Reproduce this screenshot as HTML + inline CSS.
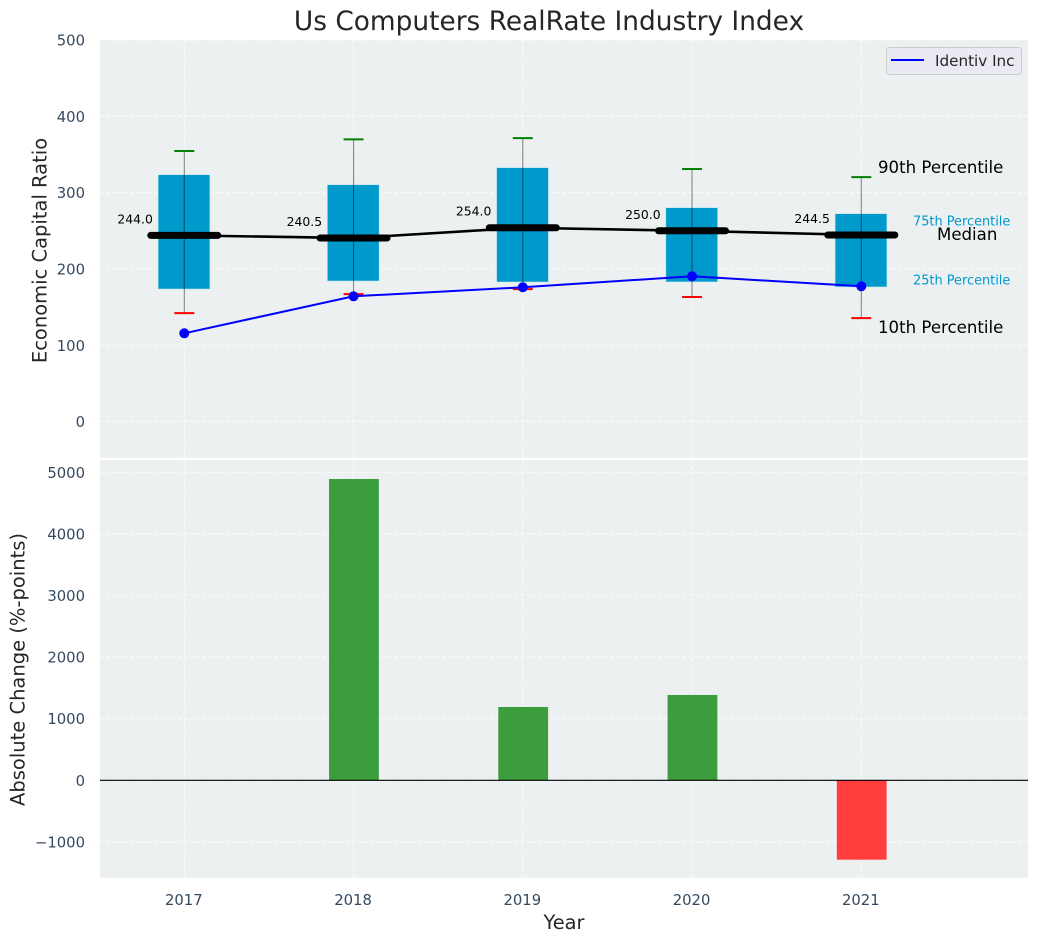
<!DOCTYPE html>
<html lang="en">
<head>
<meta charset="utf-8">
<title>Us Computers RealRate Industry Index</title>
<style>
html,body{margin:0;padding:0;background:#fff;width:1039px;height:942px;overflow:hidden}
svg{display:block;font-family:"DejaVu Sans","Liberation Sans",sans-serif}
</style>
</head>
<body>
<svg id="chart" width="1039" height="942" viewBox="0 0 1039 942" xmlns="http://www.w3.org/2000/svg">
  <rect x="100" y="40" width="928" height="417.7" fill="#ecf0f1"/>
  <rect x="100" y="460" width="928" height="417.7" fill="#ecf0f1"/>
  <g id="grid"></g>
  <g id="marks"></g>
  <text x="549" y="30" font-size="26.4" fill="#262626" text-anchor="middle">Us Computers RealRate Industry Index</text>
  <text x="46.7" y="250.5" font-size="19.5" fill="#262626" text-anchor="middle" transform="rotate(-90 46.7 250.5)">Economic Capital Ratio</text>
  <text x="24.5" y="669.5" font-size="19.5" fill="#262626" text-anchor="middle" transform="rotate(-90 24.5 669.5)">Absolute Change (%-points)</text>
  <text x="564" y="929" font-size="19.4" fill="#262626" text-anchor="middle">Year</text>
  <text x="878" y="173" font-size="16.6" fill="#000">90th Percentile</text>
  <text x="913" y="225.5" font-size="12.9" fill="#0099cc">75th Percentile</text>
  <text x="937" y="240" font-size="16.6" fill="#000">Median</text>
  <text x="913" y="284.5" font-size="12.9" fill="#0099cc">25th Percentile</text>
  <text x="878" y="333" font-size="16.6" fill="#000">10th Percentile</text>
  <g>
    <rect x="886.5" y="47.5" width="135" height="27" rx="3" fill="#eaeaf2" stroke="#cccccc"/>
    <line x1="891" x2="924" y1="60" y2="60" stroke="#0000ff" stroke-width="2"/>
    <text x="935" y="66" font-size="15.2" fill="#262626">Identiv Inc</text>
  </g>
</svg>
<script>
const years = [2017, 2018, 2019, 2020, 2021];
const p90 = [354.5, 369.8, 371.5, 330.9, 320.4];
const p75 = [323.5, 310.4, 332.7, 280.3, 272.4];
const medians = [244, 240.5, 254, 250, 244.5];
const p25 = [173.7, 184.2, 182.9, 183, 176.4];
const p10 = [142.2, 167.1, 173.5, 163.2, 135.6];
const identiv = [115.7, 164.2, 176, 190.4, 177.3];
const changes = [0, 4891, 1190, 1385, -1289];
const topTicks = [0, 100, 200, 300, 400, 500];
const bottomTicks = [-1000, 0, 1000, 2000, 3000, 4000, 5000];

const NS = 'http://www.w3.org/2000/svg';
const gridG = document.getElementById('grid');
const marksG = document.getElementById('marks');
const X = v => 184.3 + (v - 2017) * 169.25;
const YT = v => 421.6 - v * 0.7632;
const YB = v => 780.3 - v * 0.0616;
const L = 100, R = 1028;
const TOP_A = 40, TOP_B = 457.7, BOT_A = 460, BOT_B = 877.7;

function make(parent, tag, attrs, text) {
  const el = document.createElementNS(NS, tag);
  for (const k in attrs) el.setAttribute(k, attrs[k]);
  if (text !== undefined) el.textContent = text;
  parent.appendChild(el);
  return el;
}
const gridStyle = {stroke: '#ffffff', 'stroke-width': 1.1, 'stroke-dasharray': '4 2', 'stroke-opacity': 0.7};
const tickColor = '#34495e';

topTicks.forEach(t => {
  const line = make(gridG, 'line', Object.assign({x1: L, x2: R, y1: YT(t), y2: YT(t)}, gridStyle));
  
  
  const label = make(gridG, 'text', {x: 85, y: YT(t) + 5.5, 'font-size': 14.8, fill: tickColor, 'text-anchor': 'end'}, String(t));
  
  
});
bottomTicks.forEach(t => {
  const line = make(gridG, 'line', Object.assign({x1: L, x2: R, y1: YB(t), y2: YB(t)}, gridStyle));
  
  
  const label = make(gridG, 'text', {x: 85, y: YB(t) + 5.5, 'font-size': 14.8, fill: tickColor, 'text-anchor': 'end'}, String(t).replace('-', '\u2212'));
  
  
});
years.forEach(y => {
  const a = make(gridG, 'line', Object.assign({x1: X(y), x2: X(y), y1: TOP_A, y2: TOP_B}, gridStyle));
  
  
  const b = make(gridG, 'line', Object.assign({x1: X(y), x2: X(y), y1: BOT_A, y2: BOT_B}, gridStyle));
  
  
  const label = make(gridG, 'text', {x: X(y) - 0.5, y: 905, 'font-size': 14.8, fill: tickColor, 'text-anchor': 'middle'}, String(y));
  
  
});

years.forEach((y, i) => {
  const box = make(marksG, 'rect', {x: X(y) - 26.2, y: YT(p75[i]), width: 51.8, height: YT(p25[i]) - YT(p75[i]), fill: '#0099cc', stroke: '#bfe6f2', 'stroke-width': 0.6});
  
  
});
years.forEach((y, i) => {
  const whisker = make(marksG, 'line', {x1: X(y), x2: X(y), y1: YT(p90[i]), y2: YT(p10[i]), stroke: '#000', 'stroke-opacity': 0.45, 'stroke-width': 1.1});
  
  
  const hi = make(marksG, 'line', {x1: X(y) - 10, x2: X(y) + 10, y1: YT(p90[i]), y2: YT(p90[i]), stroke: '#008000', 'stroke-width': 2});
  
  
  const lo = make(marksG, 'line', {x1: X(y) - 10, x2: X(y) + 10, y1: YT(p10[i]), y2: YT(p10[i]), stroke: '#ff0000', 'stroke-width': 2});
  
  
});

const medianPath = make(marksG, 'polyline', {points: years.map((y, i) => X(y) + ',' + YT(medians[i])).join(' '), fill: 'none', stroke: '#000', 'stroke-width': 2.6});


years.forEach((y, i) => {
  const m = make(marksG, 'line', {x1: X(y) - 33.5, x2: X(y) + 33.5, y1: YT(medians[i]), y2: YT(medians[i]), stroke: '#000', 'stroke-width': 7, 'stroke-linecap': 'round'});
  
  
  const t = make(marksG, 'text', {x: X(y) - 31.4, y: YT(medians[i]) - 12, 'font-size': 12.4, fill: '#000', 'text-anchor': 'end'}, medians[i].toFixed(1));
  
  
});

const identivPath = make(marksG, 'polyline', {points: years.map((y, i) => X(y) + ',' + YT(identiv[i])).join(' '), fill: 'none', stroke: '#0000ff', 'stroke-width': 2});


years.forEach((y, i) => {
  const p = make(marksG, 'circle', {cx: X(y), cy: YT(identiv[i]), r: 5, fill: '#0000ff'});
  
  
});

years.forEach((y, i) => {
  const v = changes[i];
  const top = Math.min(YB(v), YB(0));
  const bar = make(marksG, 'rect', {x: X(y) - 24.5, y: top, width: 49.8, height: Math.abs(YB(v) - YB(0)), fill: v >= 0 ? '#3c9d3c' : '#ff3d3d'});
  
  
});
const zero = make(marksG, 'line', {x1: L, x2: R, y1: YB(0), y2: YB(0), stroke: '#000', 'stroke-width': 1.2});


</script>
</body>
</html>
